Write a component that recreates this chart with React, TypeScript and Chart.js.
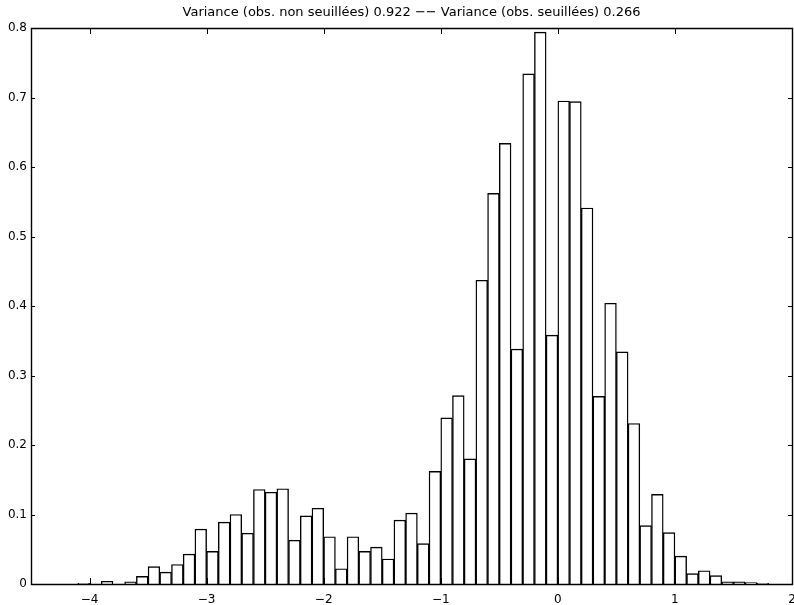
import { useEffect, useRef } from "react";
import { Chart, registerables } from "chart.js";

Chart.register(...registerables);

// Histogram bins (width 0.1) and their heights
const binCenters = [
  -4.45, -4.35, -4.25, -4.15, -4.05, -3.95, -3.85, -3.75, -3.65, -3.55,
  -3.45, -3.35, -3.25, -3.15, -3.05, -2.95, -2.85, -2.75, -2.65, -2.55,
  -2.45, -2.35, -2.25, -2.15, -2.05, -1.95, -1.85, -1.75, -1.65, -1.55,
  -1.45, -1.35, -1.25, -1.15, -1.05, -0.95, -0.85, -0.75, -0.65, -0.55,
  -0.45, -0.35, -0.25, -0.15, -0.05, 0.05, 0.15, 0.25, 0.35, 0.45,
  0.55, 0.65, 0.75, 0.85, 0.95, 1.05, 1.15, 1.25, 1.35, 1.45,
  1.55, 1.65, 1.75, 1.85, 1.95,
];

const binHeights = [
  0, 0, 0, 0, 0.001, 0, 0.004, 0, 0.003, 0.011,
  0.025, 0.017, 0.028, 0.043, 0.079, 0.047, 0.089, 0.1, 0.073, 0.136,
  0.132, 0.137, 0.063, 0.098, 0.109, 0.068, 0.022, 0.068, 0.047, 0.053,
  0.036, 0.092, 0.102, 0.058, 0.162, 0.239, 0.271, 0.18, 0.437, 0.562,
  0.634, 0.338, 0.734, 0.794, 0.358, 0.695, 0.694, 0.541, 0.27, 0.404,
  0.334, 0.231, 0.084, 0.129, 0.074, 0.04, 0.015, 0.019, 0.012, 0.003,
  0.003, 0.002, 0.001, 0, 0,
];

const xTicks = [-4, -3, -2, -1, 0, 1, 2];
const yTicks = [0, 0.1, 0.2, 0.3, 0.4, 0.5, 0.6, 0.7, 0.8];

const titleText =
  "Variance (obs. non seuillées) 0.922 −− Variance (obs. seuillées) 0.266";

const FONT = "'DejaVu Sans', 'Liberation Sans', Arial, sans-serif";

const fmt = (v: number) => {
  const s = String(Math.round(v * 10) / 10);
  return s.replace("-", "\u2212");
};

// Box around the axes with inward-pointing tick marks on all four sides
const framePlugin = {
  id: "frame",
  afterDatasetsDraw(chart: any) {
    const { ctx, chartArea } = chart;
    const { left, right, top, bottom } = chartArea;
    const xs = chart.scales.x;
    const ys = chart.scales.y;
    ctx.save();
    ctx.strokeStyle = "#000";
    ctx.lineWidth = 1;
    ctx.beginPath();
    for (const v of xTicks) {
      const px = Math.round(xs.getPixelForValue(v)) + 0.5;
      ctx.moveTo(px, bottom);
      ctx.lineTo(px, bottom - 6);
      ctx.moveTo(px, top);
      ctx.lineTo(px, top + 6);
    }
    for (const v of yTicks) {
      const py = Math.round(ys.getPixelForValue(v)) + 0.5;
      ctx.moveTo(left, py);
      ctx.lineTo(left + 4, py);
      ctx.moveTo(right, py);
      ctx.lineTo(right - 4, py);
    }
    ctx.stroke();
    ctx.lineWidth = 1.4;
    ctx.beginPath();
    ctx.rect(
      Math.round(left) + 0.5,
      Math.round(top) + 0.5,
      Math.round(right) - Math.round(left),
      Math.round(bottom) - Math.round(top)
    );
    ctx.stroke();
    ctx.restore();
  },
};

export default function App() {
  const canvasRef = useRef<HTMLCanvasElement | null>(null);

  useEffect(() => {
    const canvas = canvasRef.current;
    if (!canvas) return;
    const chart = new Chart(canvas, {
      type: "bar",
      data: {
        datasets: [
          {
            data: binCenters.map((x, i) => ({ x, y: binHeights[i] })),
            backgroundColor: "#ffffff",
            borderColor: "#000000",
            borderWidth: 1.4,
            barPercentage: 1,
            categoryPercentage: 1,
          },
        ],
      },
      options: {
        animation: false,
        responsive: false,
        events: [],
        layout: { padding: { left: 0, right: 2, top: 0, bottom: 0 } },
        plugins: {
          legend: { display: false },
          tooltip: { enabled: false },
          title: {
            display: true,
            // span only the plot box so the title is centred over it
            fullSize: false,
            text: titleText,
            color: "#000",
            font: { family: FONT, size: 13, weight: "normal", lineHeight: 1 },
            padding: { top: 6, bottom: 9 },
          },
        },
        scales: {
          x: {
            type: "linear",
            min: -4.5,
            max: 2,
            offset: false,
            grid: { display: false, drawTicks: false },
            border: { display: false },
            afterBuildTicks: (scale: any) => {
              scale.ticks = xTicks.map((value) => ({ value }));
            },
            afterFit: (scale: any) => {
              scale.height = 21;
              scale.paddingLeft = 0;
              scale.paddingRight = 0;
            },
            ticks: {
              autoSkip: false,
              maxRotation: 0,
              padding: 9,
              color: "#000",
              font: { family: FONT, size: 12 },
              callback: (v: any) => fmt(Number(v)),
            },
          },
          y: {
            type: "linear",
            min: 0,
            max: 0.8,
            grid: { display: false, drawTicks: false },
            border: { display: false },
            afterBuildTicks: (scale: any) => {
              scale.ticks = yTicks.map((value) => ({ value }));
            },
            afterFit: (scale: any) => {
              scale.width = 31;
              scale.paddingTop = 0;
              scale.paddingBottom = 0;
            },
            ticks: {
              autoSkip: false,
              padding: 4,
              color: "#000",
              font: { family: FONT, size: 12 },
              callback: (v: any) => fmt(Number(v)),
            },
          },
        },
      },
      plugins: [framePlugin],
    });
    return () => chart.destroy();
  }, []);

  return (
    <div style={{ position: "absolute", left: 0, top: 0, width: 794, height: 605, background: "#fff" }}>
      <canvas ref={canvasRef} width={794} height={605} style={{ display: "block" }} />
    </div>
  );
}
